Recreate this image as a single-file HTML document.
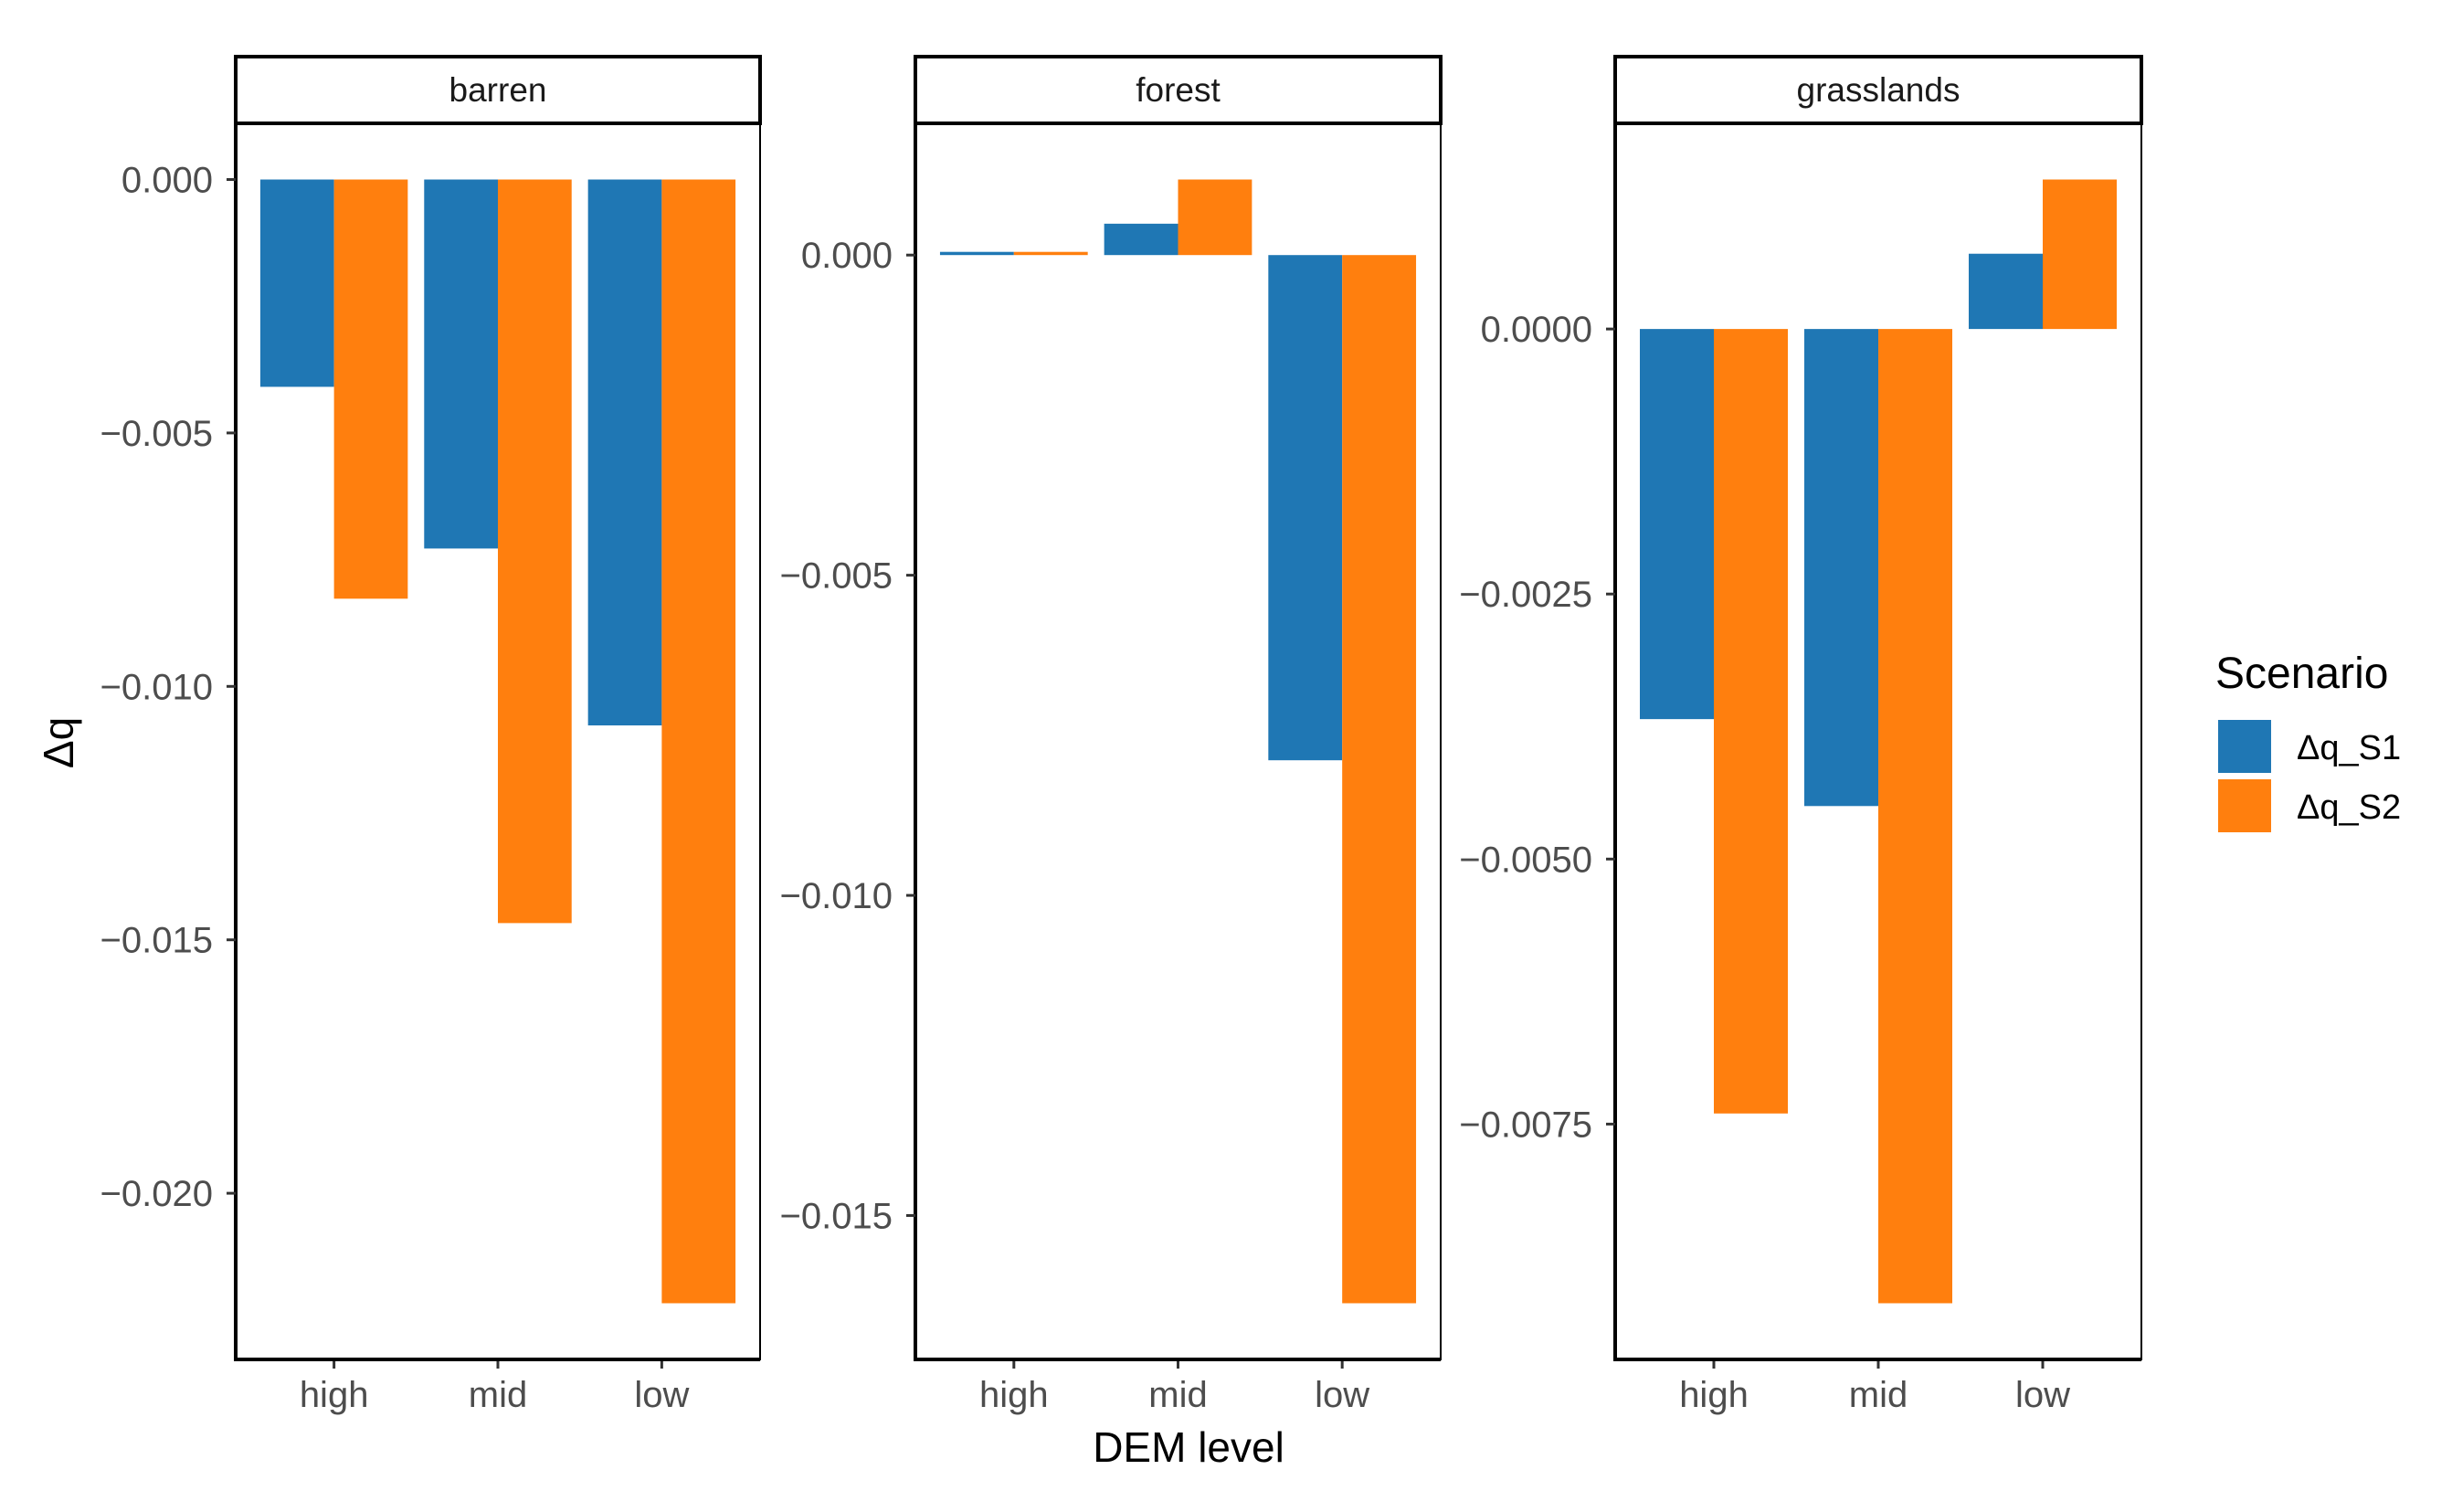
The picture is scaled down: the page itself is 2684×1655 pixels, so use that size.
<!DOCTYPE html>
<html><head><meta charset="utf-8"><style>
html,body{margin:0;padding:0;background:#fff}
svg{display:block;font-family:"Liberation Sans",Arial,sans-serif}
</style></head><body>
<svg id="chart" width="2684" height="1655" viewBox="0 0 2684 1655" xmlns="http://www.w3.org/2000/svg">
<text x="0" y="0" transform="translate(80,813) rotate(-90)" text-anchor="middle" font-size="46" fill="#000">Δq</text>
<text x="1301" y="1600" text-anchor="middle" font-size="46" fill="#000">DEM level</text>
<g>
<text x="2425" y="753" font-size="48" fill="#000">Scenario</text>
<rect x="2428" y="788" width="58" height="58" fill="#1f77b4"/>
<rect x="2428" y="853" width="58" height="58" fill="#ff7f0e"/>
<text x="2514" y="831" font-size="38" fill="#000">Δq_S1</text>
<text x="2514" y="896" font-size="38" fill="#000">Δq_S2</text>
</g>
</svg>
<script>
const categories = ["high", "mid", "low"];
const facets = ["barren", "forest", "grasslands"];
const barrenS1 = [-0.00409, -0.00728, -0.01077];
const barrenS2 = [-0.00827, -0.01467, -0.02217];
const forestS1 = [0.00005, 0.00049, -0.00789];
const forestS2 = [0.00005, 0.00118, -0.01637];
const grassS1 = [-0.00368, -0.0045, 0.00071];
const grassS2 = [-0.0074, -0.00919, 0.00141];
const barrenTicks = [0, -0.005, -0.010, -0.015, -0.020];
const barrenTickLabels = ["0.000", "−0.005", "−0.010", "−0.015", "−0.020"];
const forestTicks = [0, -0.005, -0.010, -0.015];
const forestTickLabels = ["0.000", "−0.005", "−0.010", "−0.015"];
const grassTicks = [0, -0.0025, -0.005, -0.0075];
const grassTickLabels = ["0.0000", "−0.0025", "−0.0050", "−0.0075"];

const NS = "http://www.w3.org/2000/svg";
const svgEl = document.getElementById("chart");
function mk(tag, attrs, parent) {
  const e = document.createElementNS(NS, tag);
  for (const k in attrs) e.setAttribute(k, attrs[k]);
  (parent || svgEl).appendChild(e);
  return e;
}
const panels = [
  {x0: 258, x1: 832, s1: barrenS1, s2: barrenS2, ticks: barrenTicks, labels: barrenTickLabels},
  {x0: 1002, x1: 1577, s1: forestS1, s2: forestS2, ticks: forestTicks, labels: forestTickLabels},
  {x0: 1768, x1: 2344, s1: grassS1, s2: grassS2, ticks: grassTicks, labels: grassTickLabels}
];
const stripTop = 62, plotTop = 135, plotBottom = 1488;
panels.forEach((p, i) => {
  const g = mk("g", {});
  
  
  const all = p.s1.concat(p.s2, [0]);
  let mn = Math.min(...all), mx = Math.max(...all);
  const ex = (mx - mn) * 0.05; mn -= ex; mx += ex;
  const y = v => plotBottom - (v - mn) / (mx - mn) * (plotBottom - plotTop);
  const w = p.x1 - p.x0;
  const x = c => p.x0 + (c + 0.6) / 3.2 * w;
  const bw = 0.45 / 3.2 * w;
  const sr = mk("rect", {x: p.x0, y: stripTop, width: w, height: plotTop - stripTop, fill: "#fff", stroke: "#000", "stroke-width": 4}, g);
  
  
  const st = mk("text", {x: (p.x0 + p.x1) / 2, y: plotTop - 24, "text-anchor": "middle", "font-size": 37, fill: "#1a1a1a"}, g);
  st.textContent = facets[i];
  
  
  categories.forEach((c, j) => {
    [[p.s1, "#1f77b4", "s1", -1], [p.s2, "#ff7f0e", "s2", 0]].forEach(([arr, col, nm, off]) => {
      const v = arr[j];
      const yy = Math.min(y(v), y(0)), hh = Math.max(Math.abs(y(v) - y(0)), 1.5);
      const r = mk("rect", {x: x(j) + off * bw, y: yy, width: bw, height: hh, fill: col}, g);
      
      
    });
    const t = mk("line", {x1: x(j), x2: x(j), y1: plotBottom, y2: plotBottom + 10, stroke: "#333", "stroke-width": 3}, g);
    
    
    const tl = mk("text", {x: x(j), y: plotBottom + 52, "text-anchor": "middle", "font-size": 40, fill: "#4d4d4d"}, g);
    tl.textContent = c;
    
    
  });
  const fr = mk("rect", {x: p.x0, y: plotTop, width: w, height: plotBottom - plotTop, fill: "none", stroke: "#000", "stroke-width": 2}, g);
  
  
  const al = mk("path", {d: `M${p.x0},${plotTop} V${plotBottom} H${p.x1}`, fill: "none", stroke: "#000", "stroke-width": 4}, g);
  
  
  p.ticks.forEach((tv, k) => {
    const tk = mk("line", {x1: p.x0 - 10, x2: p.x0, y1: y(tv), y2: y(tv), stroke: "#333", "stroke-width": 3}, g);
    
    
    const lb = mk("text", {x: p.x0 - 25, y: y(tv) + 14, "text-anchor": "end", "font-size": 40, fill: "#4d4d4d"}, g);
    lb.textContent = p.labels[k];
    
    
  });
});
</script>
</body></html>
